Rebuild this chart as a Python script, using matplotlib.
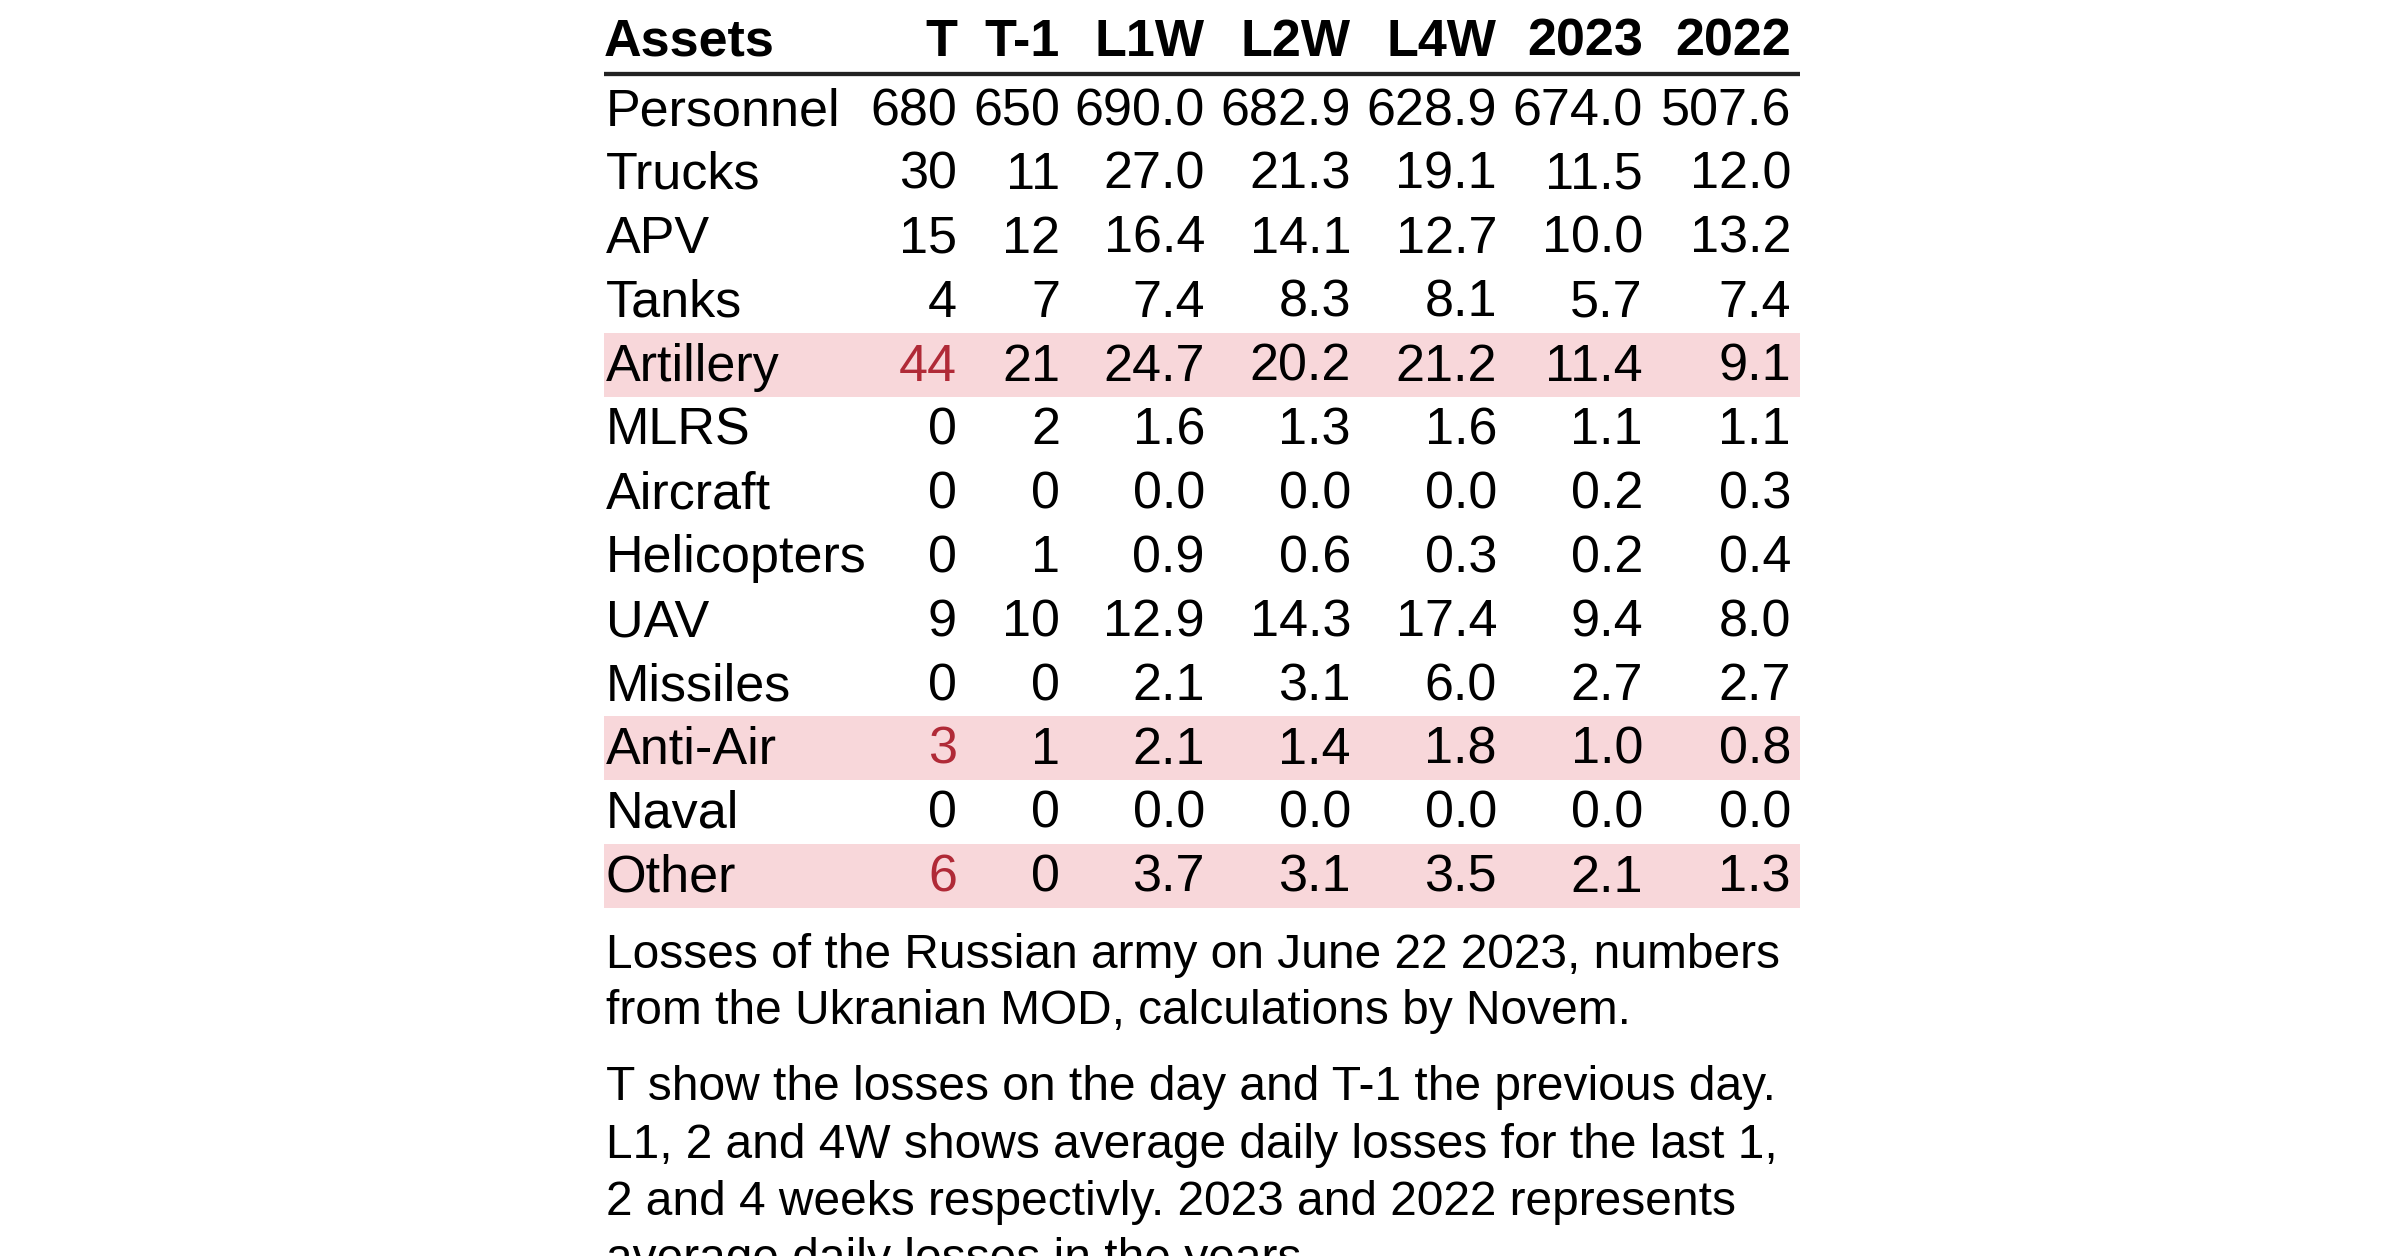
import matplotlib
matplotlib.use("Agg")
import matplotlib.pyplot as plt
from matplotlib.patches import Rectangle

plt.rcParams['font.family'] = ['Liberation Sans', 'DejaVu Sans']

# ------------------------------------------------------------
# table data
columns = ["T", "T-1", "L1W", "L2W", "L4W", "2023", "2022"]
assets = ["Personnel", "Trucks", "APV", "Tanks", "Artillery", "MLRS",
          "Aircraft", "Helicopters", "UAV", "Missiles", "Anti-Air",
          "Naval", "Other"]
t_today = [680, 30, 15, 4, 44, 0, 0, 0, 9, 0, 3, 0, 6]
t_prev = [650, 11, 12, 7, 21, 2, 0, 1, 10, 0, 1, 0, 0]
l1w = [690.0, 27.0, 16.4, 7.4, 24.7, 1.6, 0.0, 0.9, 12.9, 2.1, 2.1, 0.0, 3.7]
l2w = [682.9, 21.3, 14.1, 8.3, 20.2, 1.3, 0.0, 0.6, 14.3, 3.1, 1.4, 0.0, 3.1]
l4w = [628.9, 19.1, 12.7, 8.1, 21.2, 1.6, 0.0, 0.3, 17.4, 6.0, 1.8, 0.0, 3.5]
y2023 = [674.0, 11.5, 10.0, 5.7, 11.4, 1.1, 0.2, 0.2, 9.4, 2.7, 1.0, 0.0, 2.1]
y2022 = [507.6, 12.0, 13.2, 7.4, 9.1, 1.1, 0.3, 0.4, 8.0, 2.7, 0.8, 0.0, 1.3]
# rows where today's losses are well above the 4 week average
flagged = ["Artillery", "Anti-Air", "Other"]

caption1 = ["Losses of the Russian army on June 22 2023, numbers",
            "from the Ukranian MOD, calculations by Novem."]
caption2 = ["T show the losses on the day and T-1 the previous day.",
            "L1, 2 and 4W shows average daily losses for the last 1,",
            "2 and 4 weeks respectivly. 2023 and 2022 represents",
            "average daily losses in the years."]

# ------------------------------------------------------------
# layout (pixel coordinates, y downwards)
W, H = 2400, 1256
left, right = 604, 1800
col_right = [957, 1060, 1205, 1351, 1497, 1643, 1791]
head_base = 56
row0_base = 125
row_step = 63.9
fs = 37.5
red = "#B02A37"
band = "#F8D7DA"

fig = plt.figure(figsize=(W / 100, H / 100), dpi=100)
ax = fig.add_axes([0, 0, 1, 1])
ax.set_xlim(0, W)
ax.set_ylim(H, 0)
ax.axis("off")

# header
ax.text(left, head_base, "Assets", fontsize=fs, fontweight="bold",
        ha="left", va="baseline")
for x, c in zip(col_right, columns):
    ax.text(x, head_base, c, fontsize=fs, fontweight="bold",
            ha="right", va="baseline")
ax.plot([left, right], [74, 74], color="#222222", lw=3.1,
        solid_capstyle="butt")

series = [t_today, t_prev, l1w, l2w, l4w, y2023, y2022]
for i, name in enumerate(assets):
    yb = row0_base + i * row_step
    hot = name in flagged
    if hot:
        ax.add_patch(Rectangle((left, yb - 48), right - left, row_step,
                               color=band, lw=0, zorder=0))
    ax.text(left + 2, yb, name, fontsize=fs, ha="left", va="baseline")
    for j, (x, vals) in enumerate(zip(col_right, series)):
        v = vals[i]
        s = "%d" % v if j < 2 else "%.1f" % v
        col = red if (hot and j == 0) else "black"
        ax.text(x, yb, s, fontsize=fs, ha="right", va="baseline", color=col)

# notes below the table, one line at a time
for k, line in enumerate(caption1):
    ax.text(left + 2, 968 + k * 56, line, fontsize=34.5,
            ha="left", va="baseline")
for k, line in enumerate(caption2):
    ax.text(left + 2, 1100 + k * 57.5, line, fontsize=34.5,
            ha="left", va="baseline")

fig.savefig("out.png", dpi=100)
